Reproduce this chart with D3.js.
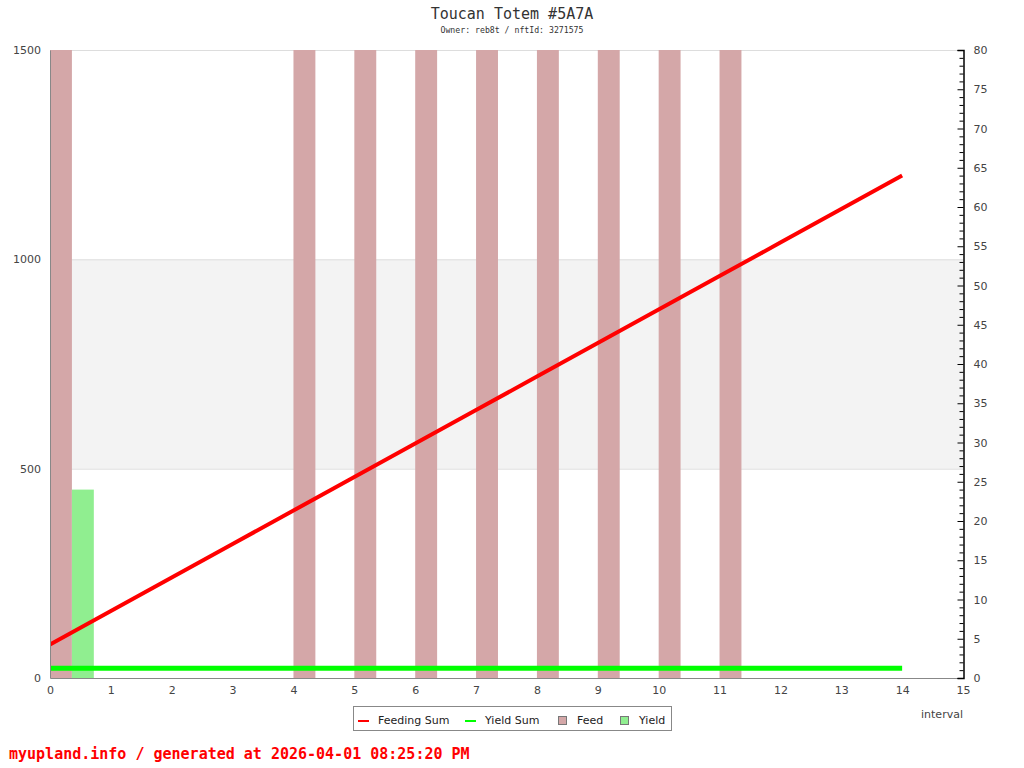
<!DOCTYPE html>
<html>
  <head>
    <meta charset="utf-8">
    <title>Toucan Totem #5A7A</title>
    <script src="https://cdn.jsdelivr.net/npm/d3@7"></script>
    <style>
      body { margin: 0; background: #fff; }
      .tick text { font-family: "DejaVu Sans", sans-serif; font-size: 11px; fill: #444; }
      .mono { font-family: "DejaVu Sans Mono", monospace; }
    </style>
  </head>
  <body>
    <script>
      // data
      var intervals = [0, 1, 2, 3, 4, 5, 6, 7, 8, 9, 10, 11, 12, 13, 14];
      var feed      = [1500, 0, 0, 0, 1500, 1500, 1500, 1500, 1500, 1500, 1500, 1500, 0, 0, 0];
      var yieldVals = [450, 0, 0, 0, 0, 0, 0, 0, 0, 0, 0, 0, 0, 0, 0];
      var feedingSum = [80, 160, 240, 320, 400, 480, 560, 640, 720, 800, 880, 960, 1040, 1120, 1200];
      var yieldSum   = [23, 23, 23, 23, 23, 23, 23, 23, 23, 23, 23, 23, 23, 23, 23];
      var leftTicks  = [0, 500, 1000, 1500];
      var bottomTicks = d3.range(0, 16);
      var legendItems = [
        {name: "Feeding Sum", type: "line", color: "#ff0000"},
        {name: "Yield Sum", type: "line", color: "#00ff00"},
        {name: "Feed", type: "box", color: "#d4a7a8"},
        {name: "Yield", type: "box", color: "#90ee90"}
      ];

      var width = 1024, height = 768;
      var margin = {left: 50, right: 61, top: 50, bottom: 90};
      var w = width - margin.left - margin.right;
      var h = height - margin.top - margin.bottom;

      var svg = d3.select("body").append("svg")
        .attr("width", width).attr("height", height);

      var x = d3.scaleLinear().domain([0, 15]).range([0, w]);
      var y = d3.scaleLinear().domain([0, 1500]).range([h, 0]);
      var yR = d3.scaleLinear().domain([0, 80]).range([h, 0]);
      var barW = 0.36;

      var g = svg.append("g").attr("transform", "translate(" + margin.left + "," + margin.top + ")");

      // band + grid
      g.append("rect").attr("x", 0).attr("width", w)
        .attr("y", y(1000)).attr("height", y(500) - y(1000)).attr("fill", "#f3f3f3");
      g.selectAll(".grid").data([500, 1000, 1500]).enter().append("line")
        .attr("x1", 0).attr("x2", w).attr("y1", d => y(d) + 0.5).attr("y2", d => y(d) + 0.5)
        .attr("stroke", "#ddd");

      g.append("clipPath").attr("id", "clip").append("rect").attr("width", w).attr("height", h);
      var plot = g.append("g").attr("clip-path", "url(#clip)");

      plot.selectAll(".feed").data(intervals.filter((d, i) => feed[i] > 0)).enter().append("rect")
        .attr("x", d => x(d)).attr("width", x(barW) - x(0))
        .attr("y", d => y(feed[d])).attr("height", d => h - y(feed[d]))
        .attr("fill", "#d4a7a8");

      plot.selectAll(".yield").data(intervals.filter((d, i) => yieldVals[i] > 0)).enter().append("rect")
        .attr("x", d => x(d + barW)).attr("width", x(barW) - x(0))
        .attr("y", d => y(yieldVals[d])).attr("height", d => h - y(yieldVals[d]))
        .attr("fill", "#90ee90");

      var line = function(vals) {
        return d3.line().x((d, i) => x(d)).y((d, i) => y(vals[i]))(intervals);
      };
      plot.append("path").attr("d", line(yieldSum)).attr("fill", "none")
        .attr("stroke", "#00ff00").attr("stroke-width", 5);
      plot.append("path").attr("d", line(feedingSum)).attr("fill", "none")
        .attr("stroke", "#ff0000").attr("stroke-width", 4);

      // axes
      var left = g.append("g").call(d3.axisLeft(y).tickValues(leftTicks).tickSize(0).tickPadding(9).tickFormat(d3.format("d")));
      left.select(".domain").attr("stroke", "#888");

      var bottom = g.append("g").attr("transform", "translate(0," + h + ")")
        .call(d3.axisBottom(x).tickValues(bottomTicks).tickSize(0).tickPadding(8).tickFormat(d3.format("d")));
      bottom.select(".domain").attr("stroke", "#888");

      var right = g.append("g").attr("transform", "translate(" + (w + 0.5) + ",0)")
        .call(d3.axisRight(yR).tickValues(d3.range(0, 81, 5)).tickSize(-6).tickPadding(10));
      right.select(".domain").attr("stroke", "#000").attr("stroke-width", 1.5);
      right.selectAll(".tick line").attr("stroke", "#000");
      right.selectAll(".minor").data(d3.range(0, 81).filter(d => d % 5)).enter().append("line")
        .attr("x1", -4).attr("x2", 0).attr("y1", d => yR(d) + 0.5).attr("y2", d => yR(d) + 0.5)
        .attr("stroke", "#000");

      g.append("text").attr("x", w - 21).attr("y", h + 40).attr("text-anchor", "middle")
        .attr("font-family", "DejaVu Sans, sans-serif").attr("font-size", 11).attr("fill", "#444")
        .text("interval");

      // title
      svg.append("text").attr("class", "mono").attr("x", 512).attr("y", 19)
        .attr("text-anchor", "middle").attr("font-size", 15).attr("fill", "#333")
        .text("Toucan Totem #5A7A");
      svg.append("text").attr("class", "mono").attr("x", 512).attr("y", 33)
        .attr("text-anchor", "middle").attr("font-size", 8.2).attr("fill", "#333")
        .text("Owner: reb8t / nftId: 3271575");

      // legend
      var lg = svg.append("g").attr("transform", "translate(353,706)");
      lg.append("rect").attr("x", 0.5).attr("y", 0.5).attr("width", 318).attr("height", 24)
        .attr("fill", "#fff").attr("stroke", "#888");
      var offs = [5, 112, 205, 267];
      var items = lg.selectAll(".li").data(legendItems).enter().append("g")
        .attr("transform", (d, i) => "translate(" + offs[i] + ",0)");
      items.filter(d => d.type === "line").append("line")
        .attr("x1", 0).attr("x2", 11).attr("y1", 15).attr("y2", 15)
        .attr("stroke", d => d.color).attr("stroke-width", 2);
      items.filter(d => d.type === "box").append("rect")
        .attr("x", 0.5).attr("y", 10.5).attr("width", 8).attr("height", 8)
        .attr("fill", d => d.color).attr("stroke", "#777");
      items.append("text").attr("x", d => d.type === "line" ? 20 : 19).attr("y", 18)
        .attr("font-family", "DejaVu Sans, sans-serif").attr("font-size", 11).attr("fill", "#222")
        .text(d => d.name);

      // footer
      svg.append("text").attr("class", "mono").attr("x", 9).attr("y", 759)
        .attr("font-size", 15).attr("font-weight", "bold").attr("fill", "#ff0000")
        .text("myupland.info / generated at 2026-04-01 08:25:20 PM");
    </script>
  </body>
</html>
